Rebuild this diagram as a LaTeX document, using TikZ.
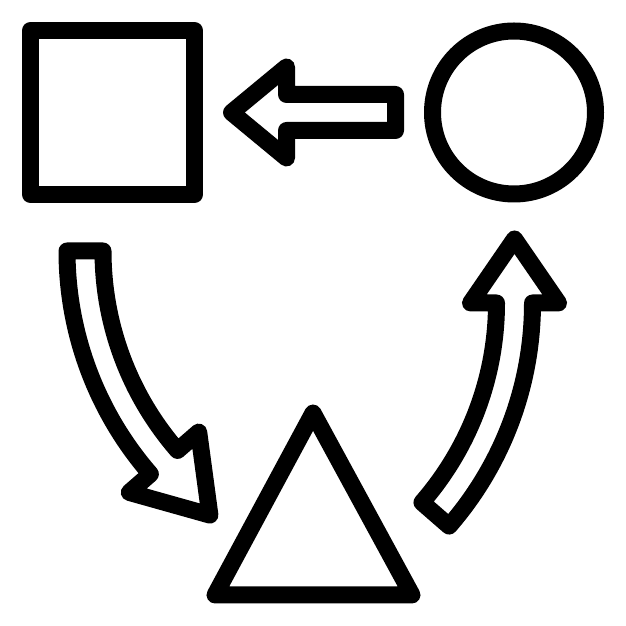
\documentclass[tikz,border=0pt]{standalone}
\usetikzlibrary{calc}
\begin{document}
\begin{tikzpicture}[
    x=1pt,y=1pt,
    outline/.style={draw,line width=17pt,line join=round,inner sep=0pt},
    blockarrow/.style={draw,line width=17pt,line join=round}
    ]
    \useasboundingbox (0,0) rectangle (626,626);

    \node (sq) [outline,minimum size=164pt] at (112.5,513.5) {};
    \node (ci) [outline,circle,minimum size=163pt] at (514,513.5) {};

    \coordinate (t1) at (313,213);
    \coordinate (t2) at (215,31);
    \coordinate (t3) at (412,31);
    \draw [blockarrow] (t1) -- (t2) -- (t3) -- cycle;

    \draw [blockarrow] (395.5,495.5) -- (286.5,495.5) -- (286.5,468) -- (231.5,513.5)
      -- (286.5,559) -- (286.5,531.5) -- (395.5,531.5) -- cycle;

    \coordinate (lc) at (407,375);
    \coordinate (le) at ($(lc)+(221:322)$);
    \draw [blockarrow] ($(lc)+(180:340)$) arc [start angle=180,end angle=221,radius=340pt]
      -- ($(le)+(221:46)$) -- ($(le)+(311:70)$) -- ($(le)+(41:46)$)
      -- ($(lc)+(221:304)$) arc [start angle=221,end angle=180,radius=304pt] -- cycle;

    \coordinate (rc) at (192.5,323);
    \draw [blockarrow] ($(rc)+(-41:340)$) arc [start angle=-41,end angle=0,radius=340pt]
      -- (558.5,323) -- (514.5,387) -- (470.5,323)
      -- (496.5,323) arc [start angle=0,end angle=-41,radius=304pt] -- cycle;

  \end{tikzpicture}
\end{document}
